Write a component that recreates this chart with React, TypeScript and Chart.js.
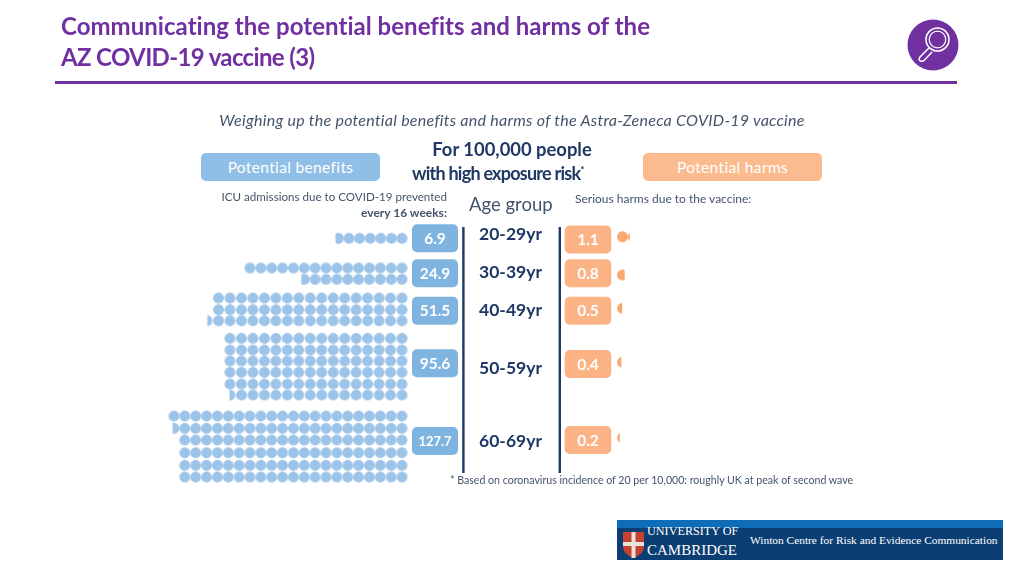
import React, { useEffect, useRef } from "react";
import { Chart, registerables } from "chart.js";

Chart.register(...registerables);

// ---- data ----
const ageGroups = ["20-29yr", "30-39yr", "40-49yr", "50-59yr", "60-69yr"];
const benefitValues = [6.9, 24.9, 51.5, 95.6, 127.7];
const harmValues = [1.1, 0.8, 0.5, 0.4, 0.2];
// how the benefit dots of each age group are stacked, top row first
const benefitRows = [
  [6.9],
  [15, 9.9],
  [17, 17, 17.5],
  [16, 16, 16, 16, 16, 15.6],
  [22, 21.7, 21, 21, 21, 21],
];

// ---- layout ----
const PAGE_W = 1024;
const PAGE_H = 576;
const DOT_PX = 10.86; // one x unit
const ORIGIN_PX = 402; // x = 0, the right-hand column of benefit dots
const HARM_X = 20.3; // first harm dot, in x units
const BLUE_DOT = "#9CC3E8";
const ORANGE_DOT = "#F9A86F";
const BLUE_BOX = "#7FB4E1";
const ORANGE_BOX = "#FBB386";
const NAVY = "#1F3864";
const GREY = "#44546A";
const PURPLE = "#7030A0";
const groupSpacing = [0.976, 1, 1.056, 1.056, 1];
const groupRowY = [
  [238.3],
  [268, 279.3],
  [298, 309.7, 320.7],
  [338.3, 350, 361, 372.3, 384, 395],
  [416, 428.3, 440, 452.7, 465.3, 477],
];
const harmDotY = [236.7, 275, 308.3, 362.3, 437.7];
const benefitBoxY = [238.3, 273.3, 310.7, 363.3, 441];
const harmBoxY = [239.5, 273.3, 310.7, 364, 440];
const ageLabelY = [234, 272, 310, 368, 441];

// a dot cut down to a part of its width, as the reference draws fractions
const DOT_R = 5.45;
const dotCache = new Map<string, HTMLCanvasElement>();
function dotImage(fraction: number, color: string, keepRight: boolean) {
  const key = `${fraction}-${color}-${keepRight}`;
  const hit = dotCache.get(key);
  if (hit) return hit;
  const size = Math.ceil(DOT_R * 2) + 2;
  const c = document.createElement("canvas");
  c.width = size;
  c.height = size;
  const g = c.getContext("2d")!;
  const visible = fraction >= 1 ? 1 : fraction * 0.75 + 0.1;
  const w = visible * DOT_R * 2;
  const mid = size / 2;
  g.beginPath();
  if (keepRight) g.rect(mid + DOT_R - w, 0, w, size);
  else g.rect(mid - DOT_R, 0, w, size);
  g.clip();
  g.beginPath();
  g.arc(mid, mid, DOT_R, 0, Math.PI * 2);
  g.fillStyle = color;
  g.fill();
  dotCache.set(key, c);
  return c;
}

function splitRow(count: number) {
  const parts: number[] = [];
  const whole = Math.floor(count + 1e-9);
  for (let i = 0; i < whole; i++) parts.push(1);
  const rest = Math.round((count - whole) * 10) / 10;
  if (rest > 0) parts.push(rest);
  return parts;
}

const benefitPoints = benefitRows.flatMap((rows, g) =>
  rows.flatMap((count, r) =>
    splitRow(count).map((f, col) => ({ x: -col * groupSpacing[g], y: groupRowY[g][r], f })),
  ),
);
const harmPoints = harmValues.flatMap((v, g) =>
  splitRow(v).map((f, col) => ({ x: HARM_X + col, y: harmDotY[g], f })),
);

function roundedBox(
  ctx: CanvasRenderingContext2D,
  cx: number,
  cy: number,
  w: number,
  h: number,
  fill: string,
  text: string,
  font: string,
) {
  ctx.beginPath();
  ctx.roundRect(cx - w / 2, cy - h / 2, w, h, 5);
  ctx.fillStyle = fill;
  ctx.fill();
  ctx.fillStyle = "#FFFFFF";
  ctx.font = font;
  ctx.textAlign = "center";
  ctx.textBaseline = "middle";
  ctx.fillText(text, cx, cy + 0.5);
}

const infographicPlugin = {
  id: "infographic",
  beforeDatasetsDraw(chart: any) {
    const { ctx, scales } = chart;
    const sx = scales.x;
    const sy = scales.y;
    ctx.save();
    // the two axis rules either side of the age groups
    ctx.strokeStyle = NAVY;
    ctx.lineWidth = 2.4;
    [463.4, 559.8].forEach((px) => {
      ctx.beginPath();
      ctx.moveTo(px, sy.getPixelForValue(227));
      ctx.lineTo(px, sy.getPixelForValue(473));
      ctx.stroke();
    });
    const benefitCx = sx.getPixelForValue((435 - ORIGIN_PX) / DOT_PX);
    const harmCx = sx.getPixelForValue((588 - ORIGIN_PX) / DOT_PX);
    ageGroups.forEach((age, i) => {
      const small = benefitValues[i] >= 100;
      roundedBox(
        ctx,
        benefitCx,
        sy.getPixelForValue(benefitBoxY[i]),
        46,
        28,
        BLUE_BOX,
        benefitValues[i].toFixed(1),
        `bold ${small ? 13 : 15.5}px Lato`,
      );
      roundedBox(
        ctx,
        harmCx,
        sy.getPixelForValue(harmBoxY[i]),
        46.5,
        28,
        ORANGE_BOX,
        harmValues[i].toFixed(1),
        "bold 15.5px Lato",
      );
      ctx.fillStyle = NAVY;
      ctx.font = "bold 17.5px Lato";
      ctx.textAlign = "center";
      ctx.textBaseline = "middle";
      ctx.fillText(age, sx.getPixelForValue((510.5 - ORIGIN_PX) / DOT_PX), sy.getPixelForValue(ageLabelY[i]));
    });
    ctx.restore();
  },
};

function Txt(props: {
  x: number;
  y: number;
  size: number;
  color?: string;
  bold?: boolean;
  italic?: boolean;
  align?: "left" | "right" | "center";
  font?: string;
  spacing?: number;
  children: React.ReactNode;
}) {
  const { x, y, size, color = GREY, bold, italic, align = "left", font = "Lato", spacing = 0 } = props;
  const tx = align === "left" ? "0" : align === "right" ? "-100%" : "-50%";
  return (
    <div
      style={{
        position: "absolute",
        left: x,
        top: y,
        transform: `translate(${tx}, -50%)`,
        fontFamily: font,
        fontSize: size,
        fontWeight: bold ? 700 : 400,
        fontStyle: italic ? "italic" : "normal",
        fontVariantLigatures: "none",
        letterSpacing: spacing,
        color,
        whiteSpace: "nowrap",
        lineHeight: 1,
      }}
    >
      {props.children}
    </div>
  );
}

function HeaderPill(props: { x: number; color: string; label: string }) {
  return (
    <div
      style={{
        position: "absolute",
        left: props.x,
        top: 153,
        width: 179,
        height: 28,
        borderRadius: 5,
        background: props.color,
        color: "#fff",
        fontFamily: "Lato",
        fontSize: 15.5,
        letterSpacing: 0.35,
        fontVariantLigatures: "none",
        lineHeight: "28px",
        textAlign: "center",
      }}
    >
      {props.label}
    </div>
  );
}

export default function App() {
  const ref = useRef<HTMLCanvasElement>(null);
  useEffect(() => {
    const chart = new Chart(ref.current!, {
      type: "scatter",
      data: {
        datasets: [
          {
            label: "ICU admissions prevented",
            data: benefitPoints,
            pointStyle: (c: any) => dotImage(c.raw.f, BLUE_DOT, true),
            pointRadius: 5,
          },
          {
            label: "Serious harms",
            data: harmPoints,
            pointStyle: (c: any) => dotImage(c.raw.f, ORANGE_DOT, false),
            pointRadius: 5,
          },
        ],
      },
      options: {
        animation: false,
        responsive: false,
        layout: { padding: 0, autoPadding: false },
        plugins: { legend: { display: false }, title: { display: false }, tooltip: { enabled: false } },
        scales: {
          x: { type: "linear", display: false, min: -ORIGIN_PX / DOT_PX, max: (PAGE_W - ORIGIN_PX) / DOT_PX },
          y: { type: "linear", display: false, reverse: true, min: 0, max: PAGE_H },
        },
      } as any,
      plugins: [infographicPlugin],
    });
    return () => chart.destroy();
  }, []);

  return (
    <div style={{ position: "absolute", left: 0, top: 0, width: PAGE_W, height: PAGE_H, overflow: "hidden", background: "#fff" }}>
      <canvas ref={ref} width={PAGE_W} height={PAGE_H} style={{ position: "absolute", left: 0, top: 0, display: "block" }} />

      <Txt x={61} y={26} size={24} bold color={PURPLE} spacing={0.03}>Communicating the potential benefits and harms of the</Txt>
      <Txt x={61} y={57} size={24} bold color={PURPLE} spacing={-0.65}>AZ COVID-19 vaccine (3)</Txt>
      <div style={{ position: "absolute", left: 55, top: 81, width: 902, height: 3, background: PURPLE }} />

      <svg style={{ position: "absolute", left: 905, top: 17 }} width={56} height={56} viewBox="0 0 56 56">
        <circle cx={28} cy={28} r={25.5} fill={PURPLE} />
        <circle cx={32.5} cy={22.5} r={11.5} fill="none" stroke="#fff" strokeWidth={1.6} />
        <circle cx={32.5} cy={22.5} r={8.3} fill="none" stroke="#fff" strokeWidth={1.2} />
        <path d="M24 31 L15 40 Q13 43 15.5 44 Q17.5 45 19.5 43 L27 35" fill="none" stroke="#fff" strokeWidth={1.5} />
      </svg>

      <Txt x={512} y={120} size={16} italic color={GREY} align="center" spacing={0.27}>Weighing up the potential benefits and harms of the Astra-Zeneca COVID-19 vaccine</Txt>
      <Txt x={512} y={149} size={18.4} bold color={NAVY} align="center">For 100,000 people</Txt>
      <Txt x={412} y={173} size={18} bold color={NAVY} spacing={-0.76}>with high exposure risk<sup style={{ fontSize: 10, lineHeight: 0 }}>*</sup></Txt>

      <HeaderPill x={201} color="#8FBEE6" label="Potential benefits" />
      <HeaderPill x={643} color="#FCBB8E" label="Potential harms" />

      <Txt x={447} y={197} size={11.6} align="right">ICU admissions due to COVID-19 prevented</Txt>
      <Txt x={447} y={213} size={12} bold align="right">every 16 weeks:</Txt>
      <Txt x={469} y={204} size={18.5} color={GREY}>Age group</Txt>
      <Txt x={575} y={199} size={12}>Serious harms due to the vaccine:</Txt>
      <Txt x={450} y={480} size={10.6}>* Based on coronavirus incidence of 20 per 10,000: roughly UK at peak of second wave</Txt>

      <div style={{ position: "absolute", left: 617, top: 520, width: 386, height: 40, background: "#0B3F73" }}>
        <div style={{ position: "absolute", left: 0, top: 0, width: 386, height: 8, background: "#0F6CB6" }} />
        <svg style={{ position: "absolute", left: 6, top: 12 }} width={21} height={26} viewBox="0 0 21 26">
          <path d="M0 0 H21 V15 Q21 22 10.5 26 Q0 22 0 15 Z" fill="#C8402F" />
          <path d="M8.5 0 H12.5 V26 H8.5 Z M0 10 H21 V14 H0 Z" fill="#E9E3DC" />
        </svg>
        <Txt x={30} y={10.5} size={12.2} color="#fff" font="Liberation Serif">UNIVERSITY OF</Txt>
        <Txt x={30} y={30} size={15} color="#fff" font="Liberation Serif">CAMBRIDGE</Txt>
        <Txt x={133} y={21} size={11.4} color="#fff" font="Liberation Serif">Winton Centre for Risk and Evidence Communication</Txt>
      </div>
    </div>
  );
}
